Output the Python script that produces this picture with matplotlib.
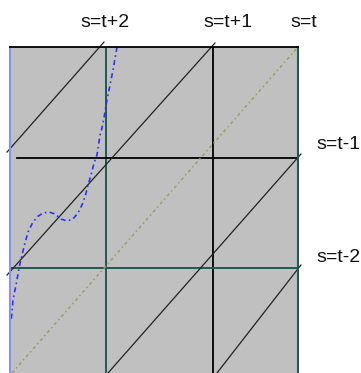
import matplotlib

matplotlib.use("Agg")
import matplotlib.pyplot as plt

# diagonal lines s = t + k, as (t0, s0, t1, s1)
DIAG_LABELS = ["s=t+2", "s=t+1", "s=t", "s=t-1", "s=t-2"]
DIAG_T0 = [-0.031, -0.031, 0.021, 1.021, 2.156]
DIAG_S0 = [2.045, 0.927, 0.036, 0.036, 0.036]
DIAG_T1 = [0.979, 2.135, 3.0, 3.031, 3.031]
DIAG_S1 = [3.045, 3.036, 3.0, 2.027, 1.018]

# grid lines
VLINE_T = [1.0, 2.115]
HLINE_S = [1.99, 0.99]

# solution curve
CURVE_T = [1.115, 1.073, 1.042, 1.010, 0.979, 0.958, 0.938, 0.906, 0.875, 0.844,
           0.813, 0.781, 0.750, 0.708, 0.656, 0.594, 0.531, 0.469, 0.406, 0.344,
           0.281, 0.229, 0.188, 0.156, 0.125, 0.094, 0.073, 0.052, 0.031, 0.021,
           0.010]
CURVE_S = [3.0, 2.791, 2.655, 2.518, 2.355, 2.264, 2.2, 2.018, 1.945, 1.836,
           1.745, 1.636, 1.564, 1.491, 1.436, 1.418, 1.436, 1.482, 1.5, 1.491,
           1.455, 1.391, 1.318, 1.218, 1.109, 0.991, 0.882, 0.791, 0.7, 0.591,
           0.5]

GRAY = "#c0c0c0"
TEAL = "#1f5a55"
OLIVE = "#9c9c62"
BLUE = "#2f2fff"

fig = plt.figure(figsize=(3.61, 3.73), dpi=100)
ax = fig.add_axes([10 / 361, 0, 288 / 361, 326 / 373])
ax.set_facecolor(GRAY)
ax.set_xlim(0, 3)
ax.set_ylim(0.036, 3)
ax.set_xticks([])
ax.set_yticks([])
ax.spines["bottom"].set_visible(False)
ax.spines["top"].set_color("black")
ax.spines["top"].set_linewidth(1.3)
ax.spines["right"].set_color(TEAL)
ax.spines["right"].set_linewidth(1.5)
ax.spines["left"].set_color("#8c8cff")
ax.spines["left"].set_linewidth(1.5)

# vertical grid lines
ax.plot([VLINE_T[0]] * 2, [0.036, 3], color=TEAL, lw=1.4)
ax.plot([VLINE_T[1]] * 2, [0.036, 3], color="black", lw=1.3)
# horizontal grid lines
ax.plot([0.073, 3], [HLINE_S[0]] * 2, color="black", lw=1.3)
ax.plot([0, 3], [HLINE_S[1]] * 2, color=TEAL, lw=1.4)

for i, label in enumerate(DIAG_LABELS):
    xs = [DIAG_T0[i], DIAG_T1[i]]
    ys = [DIAG_S0[i], DIAG_S1[i]]
    if label == "s=t":
        ax.plot(xs, ys, color=OLIVE, lw=1.1, ls=(0, (2, 2, 1, 2)), clip_on=False)
    else:
        ax.plot(xs, ys, color="#222222", lw=0.9, clip_on=False)

ax.plot(CURVE_T, CURVE_S, color=BLUE, lw=1.2, ls=(0, (3, 2, 1, 2)))

font = dict(family="Liberation Sans", fontsize=14, color="#111111")
ax.text(0.99, 3.227, "s=t+2", ha="center", va="center", clip_on=False, **font)
ax.text(2.27, 3.227, "s=t+1", ha="center", va="center", clip_on=False, **font)
ax.text(3.06, 3.227, "s=t", ha="center", va="center", clip_on=False, **font)
ax.text(3.19, 2.11, "s=t-1", ha="left", va="center", clip_on=False, **font)
ax.text(3.19, 1.09, "s=t-2", ha="left", va="center", clip_on=False, **font)

fig.savefig("out.png", dpi=100)
